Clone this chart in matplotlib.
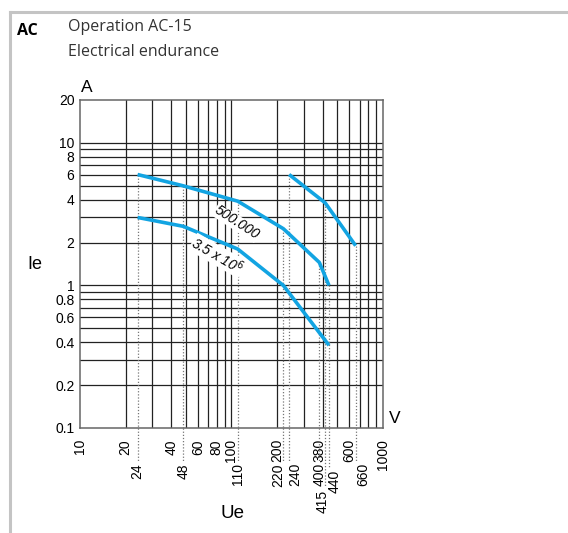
import matplotlib.pyplot as plt
from matplotlib.lines import Line2D
import matplotlib.transforms as mtransforms

# curves (Ue in V, Ie in A)
upper_v = [24, 48, 110, 220, 380, 440]
upper_i = [6, 5, 3.9, 2.5, 1.45, 1.0]
lower_v = [24, 48, 110, 220, 440]
lower_i = [3, 2.6, 1.8, 1.0, 0.38]
right_v = [240, 415, 660]
right_i = [6, 3.8, 1.9]

# dotted voltage markers: voltage, current where the line starts
mark_v = [24, 48, 110, 220, 240, 380, 415, 440, 660]
mark_i = [6, 5, 3.9, 2.5, 6, 1.45, 3.8, 1.0, 1.9]

xtick_vals = [10, 20, 40, 60, 80, 100, 200, 380, 600, 1000]
ytick_vals = [0.1, 0.2, 0.4, 0.6, 0.8, 1, 2, 4, 6, 8, 10, 20]
ytick_labels = ["0.1", "0.2", "0.4", "0.6", "0.8", "1", "2", "4", "6", "8", "10", "20"]
xgrid = [20, 30, 40, 50, 60, 70, 80, 90, 100, 200, 300, 400, 500, 600, 700, 800, 900]
ygrid = [0.2, 0.3, 0.4, 0.5, 0.6, 0.7, 0.8, 0.9, 1, 2, 3, 4, 5, 6, 7, 8, 9, 10]

# second row of voltage labels
extra_labels = ["24", "48", "110", "220", "240", "400", "415", "440", "660"]
extra_x = [24, 48, 110, 205, 262, 384, 401, 482, 745]
extra_y = [-0.107, -0.107, -0.107, -0.107, -0.107, -0.107, -0.189, -0.128, -0.107]
mark_end = [-0.104, -0.104, -0.104, -0.104, -0.104, -0.104, -0.18, -0.122, -0.104]

tickfont = ["Liberation Sans", "DejaVu Sans"]
blue = "#12a4e2"

fig = plt.figure(figsize=(5.68, 5.33), dpi=100)
ax = fig.add_axes([0.1408, 0.197, 0.5335, 0.6154])
ax.set_xscale("log")
ax.set_yscale("log")
ax.set_xlim(10, 1000)
ax.set_ylim(0.1, 20)

ax.minorticks_off()
ax.set_xticks(xtick_vals, [str(v) for v in xtick_vals])
ax.set_yticks(ytick_vals, ytick_labels)
ax.tick_params(which="both", length=0)
ax.tick_params(axis="x", pad=8)
ax.tick_params(axis="y", pad=4)
for lab in ax.get_xticklabels():
    lab.set_rotation(90)
    lab.set_va("top")
    lab.set_family(tickfont)
    lab.set_fontsize(10)
for lab in ax.get_yticklabels():
    lab.set_family(tickfont)
    lab.set_fontsize(10)
for s in ax.spines.values():
    s.set_color("#666666")
    s.set_linewidth(1.1)

for g in xgrid:
    ax.axvline(g, color="#222222", lw=0.9, zorder=1)
for g in ygrid:
    ax.axhline(g, color="#222222", lw=0.9, zorder=1)

trans = mtransforms.blended_transform_factory(ax.transData, ax.transAxes)
for v, i, e in zip(mark_v, mark_i, mark_end):
    ax.plot([v, v], [i, 0.1], ls=(0, (1, 1.5)), color="#777777", lw=0.9, zorder=3)
    ax.plot([v, v], [0, e], ls=(0, (1, 1.5)), color="#777777", lw=0.9,
            transform=trans, clip_on=False)
for t, x, y in zip(extra_labels, extra_x, extra_y):
    ax.text(x, y, t, transform=trans, rotation=90, ha="center", va="top",
            fontsize=10, family=tickfont)

for vs, cs in [(upper_v, upper_i), (lower_v, lower_i), (right_v, right_i)]:
    ax.plot(vs, cs, color=blue, lw=2.6, solid_capstyle="butt", zorder=4)

ax.text(108, 2.75, "500.000", rotation=-33, ha="center", va="center", fontsize=10,
        style="italic", family=tickfont, zorder=5,
        bbox=dict(facecolor="white", edgecolor="none", pad=0.3))
ax.text(81, 1.62, "3.5 x 10$^6$", rotation=-30, ha="center", va="center", fontsize=10,
        style="italic", family=tickfont, zorder=5,
        bbox=dict(facecolor="white", edgecolor="none", pad=0.3))

fig.text(81 / 568, 1 - 80 / 533, "A", fontsize=12.5, family=tickfont, va="top")
fig.text(389 / 568, 1 - 411 / 533, "V", fontsize=12.5, family=tickfont, va="top")
fig.text(27 / 568, 1 - 256 / 533, "Ie", fontsize=13, family=tickfont, va="top")
fig.text(220 / 568, 1 - 505 / 533, "Ue", fontsize=13.5, family=tickfont, va="top")

fig.text(17 / 568, 1 - 23 / 533, "AC", fontsize=11.5, fontweight="bold",
         family="Open Sans", va="top")
fig.text(68 / 568, 1 - 19 / 533, "Operation AC-15", fontsize=11.5,
         family="Open Sans", va="top", color="#333333")
fig.text(68 / 568, 1 - 44 / 533, "Electrical endurance", fontsize=11.5,
         family="Open Sans", va="top", color="#333333")

# light grey frame lines
fig.add_artist(Line2D([10 / 568, 1], [1 - 11.5 / 533] * 2, color="#c4c4c4", lw=2.2,
                      transform=fig.transFigure))
fig.add_artist(Line2D([10 / 568] * 2, [0, 1 - 11.5 / 533], color="#c4c4c4", lw=2.2,
                      transform=fig.transFigure))

fig.savefig("out.png", dpi=100)
